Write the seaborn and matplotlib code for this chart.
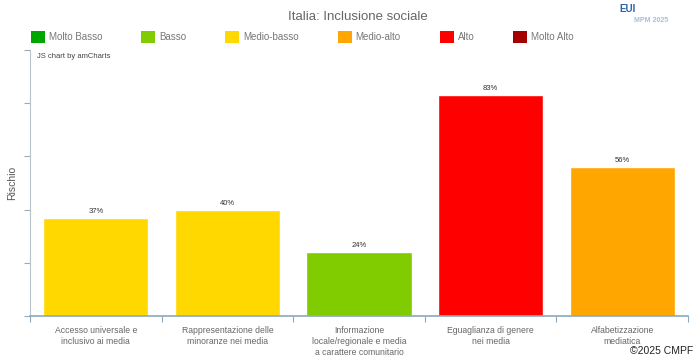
import pandas as pd
import seaborn as sns
import matplotlib.pyplot as plt
from matplotlib.patches import Patch

# --- data ---
categories = [
    "Accesso universale e\ninclusivo ai media",
    "Rappresentazione delle\nminoranze nei media",
    "Informazione\nlocale/regionale e media\na carattere comunitario",
    "Eguaglianza di genere\nnei media",
    "Alfabetizzazione\nmediatica",
]
values = [37, 40, 24, 83, 56]
risk_levels = ["Medio-basso", "Medio-basso", "Basso", "Alto", "Medio-alto"]

level_names = ["Molto Basso", "Basso", "Medio-basso", "Medio-alto", "Alto", "Molto Alto"]
level_colors = ["#00a600", "#80cc00", "#ffd800", "#ffa600", "#ff0000", "#a50000"]

df = pd.DataFrame({"cat": categories, "val": values, "level": risk_levels})
palette = dict(zip(level_names, level_colors))

sns.set_style("white")
plt.rcParams["font.family"] = ["Liberation Sans", "DejaVu Sans"]

fig = plt.figure(figsize=(7, 3.57), dpi=100)
ax = fig.add_axes([30 / 700, 1 - 316 / 357, 658 / 700, 266 / 357])

sns.barplot(data=df, x="cat", y="val", hue="level", palette=palette,
            dodge=False, width=0.8, legend=False, ax=ax, saturation=1)

for cont in ax.containers:
    ax.bar_label(cont, fmt="%d%%", fontsize=5.5, color="#333333", padding=2)

ax.set_ylim(0, 100)
ax.set_xlim(-0.5, len(categories) - 0.5)
ax.set_yticks(range(0, 101, 20))
ax.set_yticklabels([])
ax.tick_params(axis="y", left=True, length=4, color="#9aaab8", width=0.8)

ax.set_xticks(range(len(categories)))
ax.set_xticklabels(categories, fontsize=6.2, color="#666666", linespacing=1.25)
ax.tick_params(axis="x", bottom=False, pad=4)
ax.set_xticks([i - 0.5 for i in range(len(categories) + 1)], minor=True)
ax.tick_params(axis="x", which="minor", bottom=True, length=4, color="#8aa8bf", width=0.8)

ax.set_xlabel("")
ax.set_ylabel("Rischio", fontsize=7.5, color="#555555")
ax.yaxis.set_label_coords(-13 / 658, 0.5)

for side in ["top", "right"]:
    ax.spines[side].set_visible(False)
ax.spines["left"].set_color("#b8c4cc")
ax.spines["bottom"].set_color("#8aa8bf")
ax.spines["bottom"].set_linewidth(1.2)

# legend
handles = [Patch(facecolor=c, edgecolor="none") for c in level_colors]
fig.legend(handles, level_names, loc="center left", bbox_to_anchor=(27 / 700, 1 - 37 / 357),
           ncol=6, frameon=False, fontsize=7.0, handlelength=1.45, handleheight=1.45,
           handletextpad=0.4, columnspacing=4.0, labelcolor="#777777", borderaxespad=0)

fig.text(358 / 700, 1 - 17 / 357, "Italia: Inclusione sociale", ha="center", va="center",
         fontsize=9.5, color="#666666")
fig.text(37 / 700, 1 - 57 / 357, "JS chart by amCharts", ha="left", va="center",
         fontsize=5.5, color="#444444")
fig.text(693 / 700, 1 - 351 / 357, "©2025 CMPF", ha="right", va="center",
         fontsize=7.5, color="#222222")
fig.text(628 / 700, 1 - 9 / 357, "EUI", ha="center", va="center",
         fontsize=7, fontweight="bold", color="#2b63a8")
fig.text(668 / 700, 1 - 20 / 357, "MPM 2025", ha="right", va="center",
         fontsize=5, fontweight="bold", color="#9fc0e0")

fig.savefig("out.png", dpi=100)
